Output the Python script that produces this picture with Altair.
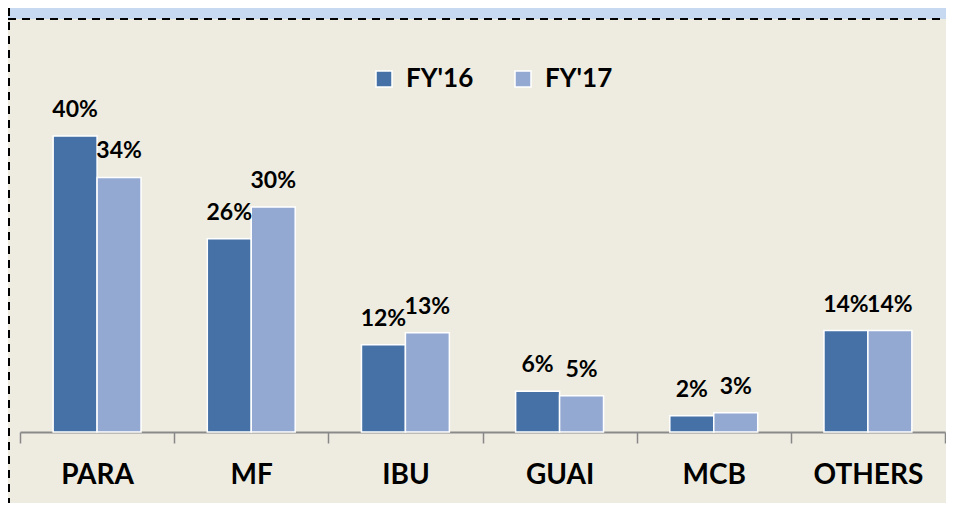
import altair as alt
import pandas as pd

categories = ["PARA", "MF", "IBU", "GUAI", "MCB", "OTHERS"]
series = ["FY'16", "FY'17"]
fy16 = [40.0, 26.1, 11.8, 5.5, 2.2, 13.7]
fy17 = [34.4, 30.4, 13.4, 4.9, 2.6, 13.7]
colors = ["#4571a6", "#94a9d2"]

rows = []
for c, a, b in zip(categories, fy16, fy17):
    rows.append({"cat": c, "series": series[0], "value": a})
    rows.append({"cat": c, "series": series[1], "value": b})
df = pd.DataFrame(rows)
one = pd.DataFrame([{"k": 0}])

FONT = "Lato"

x = alt.X(
    "cat:N",
    sort=categories,
    scale=alt.Scale(paddingInner=0, paddingOuter=0),
    axis=alt.Axis(
        title=None, labelAngle=0, labelFont=FONT, labelFontSize=28,
        labelFontWeight="bold", labelColor="black", tickBand="extent",
        tickSize=11, tickColor="#878787", tickWidth=1.5,
        domainColor="#8a8a8a", domainWidth=2, labelPadding=40,
        labelBaseline="alphabetic",
    ),
)
xo = alt.XOffset("series:N", sort=series, scale=alt.Scale(paddingInner=0, paddingOuter=0.754))
y = alt.Y("value:Q", scale=alt.Scale(domain=[0, 55], nice=False), axis=None)

band = alt.Chart(one).mark_rect(color="#c6d9f1").encode(
    x=alt.value(-12), x2=alt.value(926), y=alt.value(-17), y2=alt.value(-6)
)
topline = alt.Chart(one).mark_rule(color="black", strokeWidth=2, strokeDash=[8, 6]).encode(
    x=alt.value(-12), x2=alt.value(926), y=alt.value(-6)
)
leftline = alt.Chart(one).mark_rule(color="black", strokeWidth=2, strokeDash=[8, 6]).encode(
    x=alt.value(-11), y=alt.value(-17), y2=alt.value(480)
)

bars = alt.Chart(df).mark_bar(stroke="white", strokeWidth=1.5).encode(
    x=x, xOffset=xo, y=y,
    color=alt.Color(
        "series:N", sort=series,
        scale=alt.Scale(domain=series, range=colors),
        legend=alt.Legend(
            title=None, orient="none", legendX=351, legendY=41,
            direction="horizontal", symbolType="square", symbolSize=256,
            symbolStrokeColor="white", symbolStrokeWidth=1.5,
            labelFont=FONT, labelFontSize=26, labelFontWeight="bold",
            labelColor="black", labelOffset=9, columnPadding=36, padding=0,
        ),
    ),
)

texts = alt.Chart(df).transform_calculate(
    label="format(datum.value, '.0f') + '%'"
).mark_text(
    dy=-26, baseline="middle", font=FONT, fontSize=23, fontWeight="bold", color="black"
).encode(x=x, xOffset=xo, y=y, text="label:N")

chart = alt.layer(band, topline, leftline, bars, texts).properties(
    width=925, height=407,
    autosize=alt.AutoSizeParams(type="none"),
    padding={"left": 12, "top": 17, "right": 1, "bottom": 71},
).configure(background="#eeece1").configure_view(stroke=None)

chart.save("out.html", embed_options={"renderer": "svg", "actions": False})
